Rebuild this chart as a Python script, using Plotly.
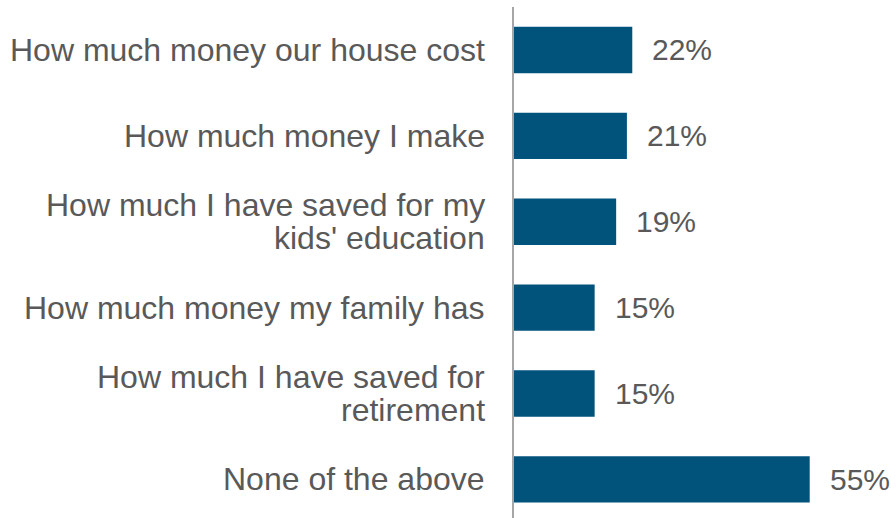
import plotly.graph_objects as go

categories = [
    "How much money our house cost",
    "How much money I make",
    "How much I have saved for my<br>kids' education",
    "How much money my family has",
    "How much I have saved for<br>retirement",
    "None of the above",
]
values = [22, 21, 19, 15, 15, 55]
value_labels = ["22%", "21%", "19%", "15%", "15%", "55%"]

BAR_COLOR = "#02537C"
TEXT_COLOR = "#595959"
FONT = "Liberation Sans, Arial, sans-serif"
LABEL_SIZE = 32
VALUE_SIZE = 30
LINE_GAP = 33  # px between lines of a wrapped category label

fig = go.Figure(
    go.Bar(
        x=values,
        y=categories,
        orientation="h",
        width=0.54,
        marker=dict(color=BAR_COLOR, line=dict(width=0)),
        hoverinfo="skip",
    )
)

# value labels to the right of each bar
for cat, val, lab in zip(categories, values, value_labels):
    fig.add_annotation(
        x=val, y=cat, text=lab, showarrow=False,
        xanchor="left", yanchor="middle", xshift=18,
        font=dict(family=FONT, size=VALUE_SIZE, color=TEXT_COLOR),
    )

# category labels, right-aligned against the axis, tighter line spacing
for cat in categories:
    lines = cat.split("<br>")
    n = len(lines)
    for i, line in enumerate(lines):
        fig.add_annotation(
            xref="paper", x=0, y=cat, text=line, showarrow=False,
            xanchor="right", yanchor="middle", xshift=-27,
            yshift=((n - 1) / 2 - i) * LINE_GAP,
            font=dict(family=FONT, size=LABEL_SIZE, color=TEXT_COLOR),
        )

fig.update_layout(
    width=896, height=518,
    margin=dict(l=514, r=0, t=7, b=0),
    paper_bgcolor="white", plot_bgcolor="white",
    showlegend=False,
    font=dict(family=FONT, size=LABEL_SIZE, color=TEXT_COLOR),
    xaxis=dict(range=[0, 71.05], visible=False, showgrid=False, zeroline=False),
    yaxis=dict(
        categoryorder="array", categoryarray=categories,
        range=[5.45, -0.5],
        showline=True, linecolor="#A6A6A6", linewidth=2,
        showgrid=False, zeroline=False, ticks="",
        showticklabels=False,
    ),
)

fig.write_html("out.html")
